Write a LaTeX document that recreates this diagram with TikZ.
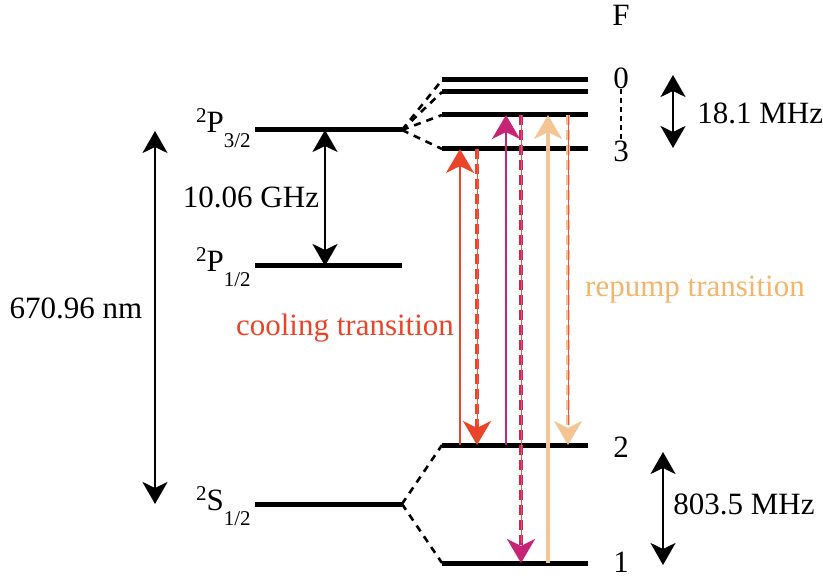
\documentclass[tikz,border=0pt]{standalone}
\usepackage{fontspec}
\setmainfont{Liberation Serif}
\usetikzlibrary{arrows.meta}

\definecolor{coolred}{RGB}{234,68,42}
\definecolor{pumpmag}{RGB}{200,36,118}
\definecolor{peach}{RGB}{245,196,148}
\definecolor{repumptext}{RGB}{244,180,108}
\definecolor{corered}{RGB}{236,86,66}

% term symbol: superscript, letter, subscript
\newcommand{\term}[3]{\raisebox{5pt}{\fontsize{10.5}{11}\selectfont #1}#2\raisebox{-7.5pt}{\fontsize{10.5}{11}\selectfont #3}}

\tikzset{
  level/.style={line width=2.5pt},
  split/.style={line width=1.3pt, dash pattern=on 3.5pt off 3pt},
  gap/.style={line width=1.3pt, {Stealth[length=11pt,width=12.5pt,inset=3pt]}-{Stealth[length=11pt,width=12.5pt,inset=3pt]}},
  pump/.style={line width=1.4pt, -{Stealth[length=12pt,width=14pt,inset=3.5pt]}},
  decay/.style={line width=1.6pt, dash pattern=on 5pt off 2.5pt, -{Stealth[length=12pt,width=14pt,inset=3.5pt]}},
  core/.style={line width=0.5pt, corered, shorten >=10pt},
  lbl/.style={font=\fontsize{15.5}{18}\selectfont, inner sep=0pt},
}

\begin{document}
\begin{tikzpicture}[x=0.5pt, y=-0.5pt]
  \useasboundingbox (0,0) rectangle (823,576);

  % fine structure levels
  \coordinate (P32l) at (255,130); \coordinate (P32r) at (402,130);
  \coordinate (P12l) at (255,266); \coordinate (P12r) at (402,266);
  \coordinate (S12l) at (255,504); \coordinate (S12r) at (402,504);
  \draw[level] (P32l) -- (P32r);
  \draw[level] (P12l) -- (P12r);
  \draw[level] (S12l) -- (S12r);

  \node[lbl, anchor=base east] (P32lab) at (251,133) {\term{2}{P}{3/2}};
  \node[lbl, anchor=base east] (P12lab) at (251,272) {\term{2}{P}{1/2}};
  \node[lbl, anchor=base east] (S12lab) at (251,510) {\term{2}{S}{1/2}};

  % hyperfine levels of P3/2 (F = 0..3)
  \coordinate (F0l) at (442,80);  \coordinate (F0r) at (588,80);
  \coordinate (F1l) at (442,92);  \coordinate (F1r) at (588,92);
  \coordinate (F2l) at (442,115); \coordinate (F2r) at (588,115);
  \coordinate (F3l) at (442,149); \coordinate (F3r) at (588,149);
  \foreach \f in {0,1,2,3} {
    \draw[level] (F\f l) -- (F\f r);
    \draw[split] (P32r) -- (F\f l);
  }

  % hyperfine levels of S1/2 (F = 2, 1)
  \coordinate (S2l) at (442,445); \coordinate (S2r) at (588,445);
  \coordinate (S1l) at (442,563); \coordinate (S1r) at (588,563);
  \draw[level] (S2l) -- (S2r);
  \draw[level] (S1l) -- (S1r);
  \draw[split] (S12r) -- (S2l);
  \draw[split] (S12r) -- (S1l);

  % F labels
  \node[lbl] (Flab) at (621,15) {F};
  \node[lbl] (F0lab) at (621,78) {0};
  \node[lbl] (F3lab) at (621,151) {3};
  \node[lbl] (S2lab) at (621,447) {2};
  \node[lbl] (S1lab) at (621,562) {1};
  \draw[line width=0.6pt, dash pattern=on 2.5pt off 2pt] (F0lab.south) -- (F3lab.north);

  % splittings
  \draw[gap] (155,131) -- (155,504);
  \node[lbl] (wl) at (76,308) {670.96 nm};
  \draw[gap] (325,130 |- P32l) -- (325,0 |- P12l);
  \node[lbl] (fs) at (251,197) {10.06 GHz};
  \draw[gap] (673,75) -- (673,148);
  \node[lbl, anchor=west] (hfp) at (697,113) {18.1 MHz};
  \draw[gap] (663,452) -- (663,565);
  \node[lbl, anchor=west] (hfs) at (673,504) {803.5 MHz};

  % cooling transition
  \draw[pump, coolred] (460,0 |- S2l) -- (460,0 |- F3l);
  \draw[decay, coolred] (477,0 |- F3l) -- (477,0 |- S2l);
  \draw[core] (477,0 |- F3l) -- (477,0 |- S2l);
  \node[lbl, text=coolred] (cool) at (345,328) {cooling transition};

  % pump F=2 -> F'=2
  \draw[pump, pumpmag] (506,0 |- S2l) -- (506,0 |- F2l);
  \draw[decay, pumpmag] (521,0 |- F2l) -- (521,0 |- S1l);
  \draw[core] (521,0 |- F2l) -- (521,0 |- S1l);

  % repump transition
  \draw[pump, peach, line width=1.7pt] (548,0 |- S1l) -- (548,0 |- F2l);
  \draw[decay, peach] (568,0 |- F2l) -- (568,0 |- S2l);
  \draw[core] (568,0 |- F2l) -- (568,0 |- S2l);
  \node[lbl, text=repumptext] (repump) at (695,290) {repump transition};

\end{tikzpicture}
\end{document}
